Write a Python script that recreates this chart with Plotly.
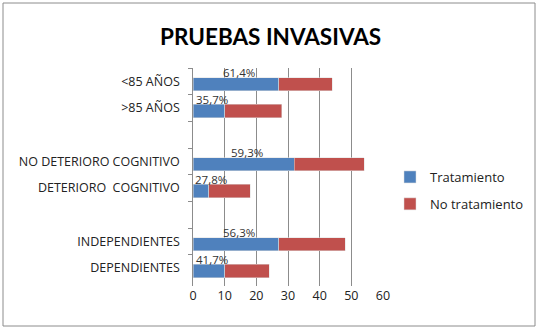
import plotly.graph_objects as go

categories = ["<85 AÑOS", ">85 AÑOS", " ", "NO DETERIORO COGNITIVO", "DETERIORO  COGNITIVO", "  ", "INDEPENDIENTES", "DEPENDIENTES"]
tratamiento = [27, 10, None, 32, 5, None, 27, 10]
no_tratamiento = [17, 18, None, 22, 13, None, 21, 14]
pct_labels = ["61,4%", "35,7%", "", "59,3%", "27,8%", "", "56,3%", "41,7%"]
x_ticks = [0, 10, 20, 30, 40, 50, 60]

W, H = 538, 329
L, R, T, B = 193, 155, 68, 43
pw, ph = W - L - R, H - T - B

BLUE = "#4F81BD"
RED = "#C0504D"
FONT = "Open Sans"

fig = go.Figure()
fig.add_trace(go.Bar(
    y=categories, x=tratamiento, orientation="h", name="Tratamiento",
    marker=dict(color=BLUE, line=dict(color="#dddddd", width=0.5)),
    width=0.5, offset=-0.14, legendgroup="a",
))
fig.add_trace(go.Bar(
    y=categories, x=no_tratamiento, orientation="h", name="No tratamiento",
    marker=dict(color=RED, line=dict(color="#dddddd", width=0.5)),
    width=0.5, offset=-0.14, legendgroup="b",
))

annotations = []
for cat, b, lab in zip(categories, tratamiento, pct_labels):
    if b is None or not lab:
        continue
    annotations.append(dict(
        x=max(b / 2 + 1, 5.6), y=cat, xref="x", yref="y", text=lab, showarrow=False,
        xanchor="center", yanchor="bottom", yshift=-1,
        font=dict(family=FONT, size=11.5, color="#333333"),
    ))

annotations.append(dict(
    x=(270 - L) / pw, y=(H - 36.5 - B) / ph, xref="paper", yref="paper",
    text="<b>PRUEBAS INVASIVAS</b>", showarrow=False, xanchor="center", yanchor="middle",
    font=dict(family="Lato", size=22.5, color="#000000"),
))

fig.update_layout(
    width=W, height=H,
    margin=dict(l=L, r=R, t=T, b=B, autoexpand=False),
    barmode="stack",
    paper_bgcolor="white", plot_bgcolor="white",
    font=dict(family=FONT, size=12, color="#222222"),
    showlegend=True,
    legend=dict(
        x=(390 - L) / pw, y=(H - 162 - B) / ph, xanchor="left", yanchor="top",
        traceorder="grouped", tracegroupgap=7,
        font=dict(family=FONT, size=13, color="#222222"),
        itemwidth=30, bgcolor="rgba(0,0,0,0)",
    ),
    annotations=annotations,
    shapes=[dict(
        type="rect", xref="paper", yref="paper",
        x0=(3 - L) / pw, x1=(535 - L) / pw,
        y0=(3 - B) / ph, y1=(H - 3 - B) / ph,
        line=dict(color="#8c8c8c", width=1), layer="below",
    )],
    xaxis=dict(
        range=[0, 60], tickvals=x_ticks, showgrid=True, gridcolor="#8c8c8c", gridwidth=1,
        zeroline=False, showline=False, ticks="",
        tickfont=dict(family=FONT, size=12.5, color="#222222"),
    ),
    yaxis=dict(
        type="category", categoryorder="array", categoryarray=categories,
        autorange="reversed", showgrid=False, showline=True, linecolor="#8c8c8c",
        ticks="outside", ticklen=4, tickcolor="#8c8c8c", tickson="boundaries",
        tickfont=dict(family=FONT, size=12.5, color="#222222"), ticksuffix="   ",
    ),
)

fig.write_html(
    "out.html",
    config={"displayModeBar": False},
    post_script="document.body.style.margin='0';document.body.style.overflow='hidden';",
)
